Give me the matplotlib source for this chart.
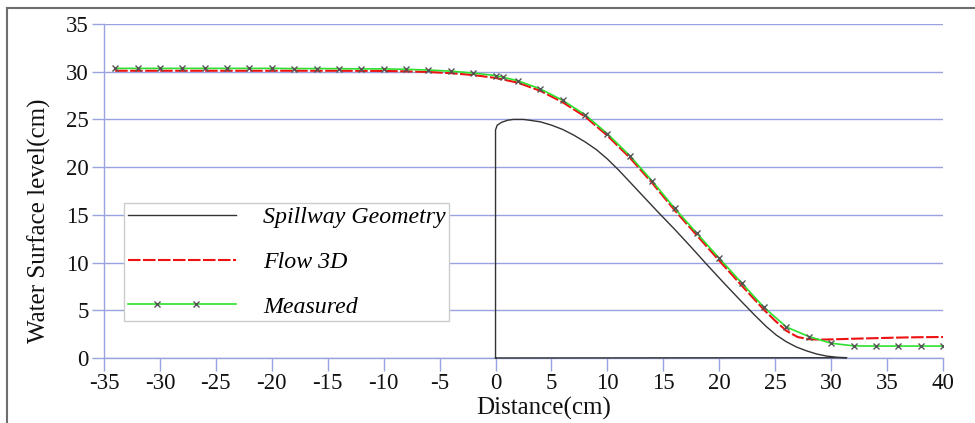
import numpy as np
import matplotlib
matplotlib.use("Agg")
import matplotlib.pyplot as plt
from matplotlib.lines import Line2D
from matplotlib.legend_handler import HandlerLine2D

# spillway outline (closed along the channel bed)
spill_x = [0, 0, 0.15, 0.55, 1.1, 1.6, 2.5, 3.0, 4.0, 5.0, 6.0, 7.0, 8.0, 9.0, 10.0, 11.0, 12.0, 13.0,
           14.4, 16.0, 17.5, 19.0, 20.5, 22.0, 23.2, 24.2, 25.1, 26.0, 26.9, 27.8, 28.7, 29.6, 30.5,
           31.4, 0]
spill_y = [0, 23.9, 24.4, 24.7, 24.92, 25.0, 25.0, 24.92, 24.75, 24.4, 23.95, 23.35, 22.65, 21.85,
           20.85, 19.7, 18.45, 17.2, 15.45, 13.5, 11.6, 9.65, 7.75, 5.9, 4.45, 3.3, 2.4, 1.7, 1.15,
           0.75, 0.42, 0.2, 0.08, 0.03, 0]

# Flow 3D water surface
flow_x = [-34, -30, -25, -20, -15, -10, -8, -6, -4, -2, 0, 2, 4, 6, 8, 10, 12, 14, 16, 18, 20,
          22, 24, 25, 26, 27, 28, 29, 30, 32, 34, 36, 38, 40]
flow_y = [30.1, 30.1, 30.1, 30.1, 30.1, 30.08, 30.04, 29.97, 29.85, 29.65, 29.35, 28.85, 28.0, 26.8,
          25.3, 23.3, 21.0, 18.35, 15.5, 12.85, 10.2, 7.6, 5.05, 3.9, 2.85, 2.2, 1.97, 1.93, 1.95,
          2.02, 2.08, 2.14, 2.18, 2.2]

# measured water surface
meas_x = [-34, -32, -30, -28, -26, -24, -22, -20, -18, -16, -14, -12, -10, -8, -6, -4, -2, 0, 0.7,
          2, 4, 6, 8, 10, 12, 14, 16, 18, 20, 22, 24, 26, 28, 30, 32, 34, 36, 38, 40]
meas_y = [30.35, 30.35, 30.35, 30.35, 30.35, 30.35, 30.35, 30.35, 30.33, 30.33, 30.32, 30.3, 30.3,
          30.25, 30.18, 30.06, 29.86, 29.6, 29.42, 29.05, 28.2, 27.0, 25.5, 23.5, 21.2, 18.55, 15.7,
          13.07, 10.45, 7.87, 5.3, 3.25, 2.25, 1.55, 1.27, 1.25, 1.25, 1.25, 1.25]

x_ticks = list(range(-35, 41, 5))
y_ticks = list(range(0, 36, 5))

grid_col = "#99a3dd"
serif = ["Liberation Serif", "DejaVu Serif"]
plt.rcParams["font.family"] = serif
plt.rcParams["axes.unicode_minus"] = False


class HandlerMeasured(HandlerLine2D):
    # line across the handle, two markers placed inside it like the original
    def get_xdata(self, legend, xdescent, ydescent, width, height, fontsize):
        xdata = np.array([-xdescent, -xdescent + 0.27 * width,
                          -xdescent + 0.63 * width, width - xdescent])
        return xdata, xdata

    def create_artists(self, *args, **kwargs):
        artists = super().create_artists(*args, **kwargs)
        artists[0].set_markevery([1, 2])
        return artists


fig = plt.figure(figsize=(9.75, 4.23), dpi=100)
ax = fig.add_axes([104 / 975, 1 - 358 / 423, 839 / 975, 334 / 423])

ax.plot(spill_x, spill_y, color="#333333", lw=1.0, clip_on=False, zorder=3, label="Spillway Geometry")
ax.plot(flow_x, flow_y, color="#ee1111", lw=1.5, dashes=[6, 1.2], zorder=4, label="Flow 3D")
ax.plot(meas_x, meas_y, color="#2ee02e", lw=1.2, marker="x", ms=4, mec="#555555", mew=1.0,
        zorder=5, label="Measured")

ax.set_xlim(-35, 40)
ax.set_ylim(0, 35)
ax.set_xticks(x_ticks)
ax.set_yticks(y_ticks)
ax.yaxis.grid(True, color=grid_col, lw=1.0)
ax.set_axisbelow(True)

for side in ["top", "right"]:
    ax.spines[side].set_visible(False)
for side in ["left", "bottom"]:
    ax.spines[side].set_color(grid_col)
    ax.spines[side].set_linewidth(1.0)
ax.tick_params(axis="both", direction="out", length=9, width=1.0, color=grid_col,
               labelsize=16.5, pad=2, labelcolor="#111111")

ax.set_xlabel("Distance(cm)", fontsize=18, color="#111111")
ax.set_ylabel("Water Surface level(cm)", fontsize=18, color="#111111")
ax.xaxis.set_label_coords((544 - 104) / 839, -0.115)
ax.yaxis.set_label_coords(-0.063, (358 - 221) / 334)

handles, labels = ax.get_legend_handles_labels()
leg = ax.legend(handles, labels, loc="upper left", bbox_to_anchor=(0.0238, 0.464),
                prop={"family": serif, "style": "italic", "size": 17.2},
                handlelength=4.55, handletextpad=1.12, labelspacing=0.96, borderpad=0.15,
                borderaxespad=0, fancybox=False, framealpha=1, edgecolor="#cccccc",
                handler_map={handles[2]: HandlerMeasured(numpoints=4)})
leg.get_frame().set_linewidth(1.0)

# grey border of the original figure (top and left only)
fig.add_artist(Line2D([7 / 975, 1], [1 - 8 / 423, 1 - 8 / 423], color="#6e6e6e", lw=1.5,
                      transform=fig.transFigure))
fig.add_artist(Line2D([7 / 975, 7 / 975], [0, 1 - 8 / 423], color="#6e6e6e", lw=1.5,
                      transform=fig.transFigure))

fig.savefig("out.png", dpi=100)
